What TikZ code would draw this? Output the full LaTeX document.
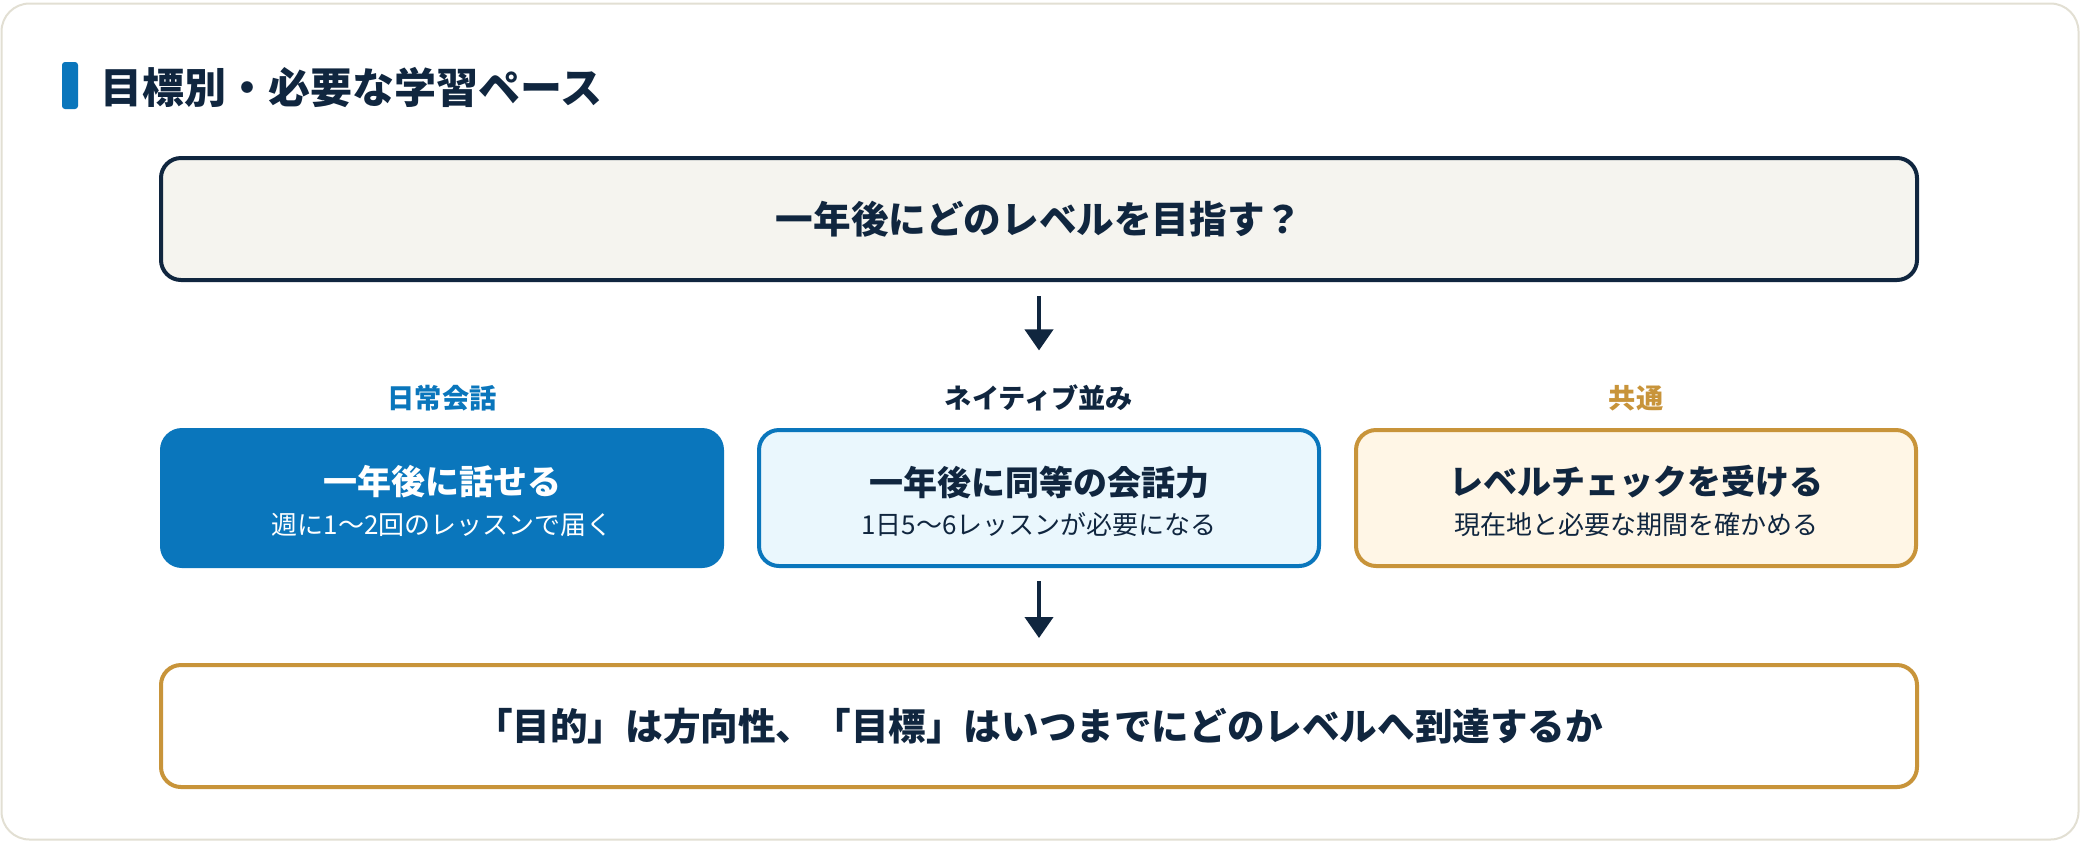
\documentclass[tikz,border=0pt]{standalone}
\usepackage{fontspec}
\setmainfont{Noto Sans CJK JP}
\usepackage{tikz}
\usetikzlibrary{arrows.meta}
\definecolor{navy}{HTML}{10263F}
\definecolor{sea}{HTML}{0A76BC}
\definecolor{sky}{HTML}{EAF7FD}
\definecolor{gold}{HTML}{C8943A}
\definecolor{cream}{HTML}{FFF6E6}
\definecolor{paper}{HTML}{F5F4EF}
\definecolor{frame}{HTML}{E2DFD3}

\begin{document}
\begin{tikzpicture}[x=0.5pt,y=0.5pt]
                    \tikzstyle{every node}+=[inner sep=0pt]
                    \tikzstyle{wide box}=[draw, line width=2pt, rounded corners=10pt, minimum width=878pt, minimum height=61pt, text=navy, font=\fontsize{18.8pt}{22pt}\selectfont\bfseries]
                    \tikzstyle{row box}=[draw, line width=2pt, rounded corners=10pt, minimum width=280pt, minimum height=68pt]
                    \tikzstyle{tag}=[font=\fontsize{13.6pt}{16pt}\selectfont\bfseries]
                    \tikzstyle{head}=[font=\fontsize{17pt}{20pt}\selectfont\bfseries]
                    \tikzstyle{note}=[font=\fontsize{13pt}{16pt}\selectfont]
                    \tikzstyle{flow}=[draw=navy, line width=2pt, -{Triangle[width=14pt,length=10.5pt]}]
                    \useasboundingbox (0,0) rectangle (2080,-842);
                    \draw [frame, line width=1pt, fill=white, rounded corners=14pt] (1.5,-3.5) rectangle (2078.5,-839.5);
                    % heading
                    \fill [sea, rounded corners=1.5pt] (62,-62) rectangle (78,-109);
                    \node [anchor=west, text=navy, font=\fontsize{21pt}{25pt}\selectfont\bfseries] (title) at (100,-88) {目標別・必要な学習ペース};
                    % question
                    \node [wide box, draw=navy, fill=paper] (goal) at (1039,-219) {一年後にどのレベルを目指す？};
                    % three paths
                    \node [tag, text=sea] (daily-tag) at (442,-398) {日常会話};
                    \node [tag, text=navy] (native-tag) at (1039,-398) {ネイティブ並み};
                    \node [tag, text=gold] (check-tag) at (1636,-398) {共通};
                    \node [row box, draw=sea, fill=sea] (daily) at (442,-498) {};
                    \node [head, text=white] (daily-head) at (442,-482) {一年後に話せる};
                    \node [note, text=white] (daily-note) at (442,-525) {週に1〜2回のレッスンで届く};
                    \node [row box, draw=sea, fill=sky] (native) at (1039,-498) {};
                    \node [head, text=navy] (native-head) at (1039,-482) {一年後に同等の会話力};
                    \node [note, text=navy] (native-note) at (1039,-525) {1日5〜6レッスンが必要になる};
                    \node [row box, draw=gold, fill=cream] (check) at (1636,-498) {};
                    \node [head, text=navy] (check-head) at (1636,-482) {レベルチェックを受ける};
                    \node [note, text=navy] (check-note) at (1636,-525) {現在地と必要な期間を確かめる};
                    % answer
                    \node [wide box, draw=gold, fill=white] (aim) at (1039,-726) {「目的」は方向性、「目標」はいつまでにどのレベルへ到達するか};
                    \draw [flow, shorten <=7pt, shorten >=17pt] (goal) -- (native-tag);
                    \draw [flow, shorten <=6.5pt, shorten >=12.5pt] (native) -- (aim);
                \end{tikzpicture}
\end{document}
